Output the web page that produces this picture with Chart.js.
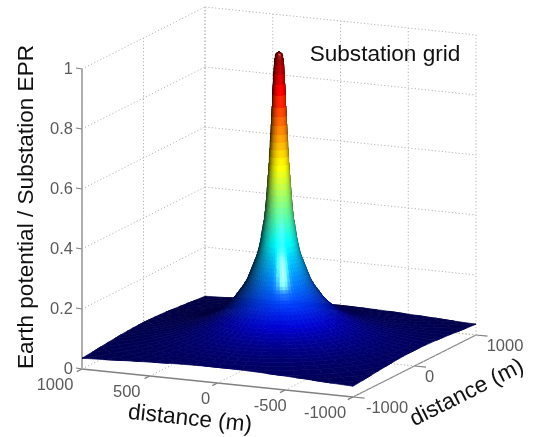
<!DOCTYPE html>
<html><head><meta charset="utf-8">
<style>html,body{margin:0;padding:0;background:#fff}canvas{display:block;filter:blur(.55px)}</style>
<script src="https://cdn.jsdelivr.net/npm/chart.js@4"></script></head>
<body><canvas id="c" width="533" height="437"></canvas>
<script>
// values
const xTicks = [1000, 500, 0, -500, -1000];
const yTicks = [-1000, 0, 1000];
const zTicks = [0, 0.2, 0.4, 0.6, 0.8, 1];
const xTickLabels = ['1000', '500', '0', '-500', '-1000'];
const yTickLabels = ['-1000', '0', '1000'];
const zTickLabels = ['0', '0.2', '0.4', '0.6', '0.8', '1'];
const titleText = 'Substation grid';
const xTitle = 'distance (m)';
const yTitle = 'distance (m)';
const zTitle = 'Earth potential / Substation EPR';
// potential against distance from the centre of the grid
const profileR = [0,10,18,22,26,30,34,38,42,45,48,51,54,57,60,63,66,69,72,75,78,81,84,88,92,96,100,105,110,115,120,127,135,142,150,160,170,180,190,202,215,228,240,255,270,285,300,320,340,370,400,435,470,510,550,595,640,690,740,795,850,925,1000,1100,1200,1300,1414];
const profileZ = [1,.998,.995,.99,.98,.96,.93,.895,.86,.82,.79,.76,.73,.705,.68,.655,.63,.61,.59,.57,.55,.53,.51,.49,.47,.455,.44,.425,.41,.395,.38,.362,.345,.332,.32,.307,.295,.282,.27,.255,.24,.23,.22,.21,.2,.19,.18,.17,.16,.147,.135,.125,.115,.106,.098,.091,.084,.078,.072,.067,.062,.057,.052,.047,.043,.039,.036];
const azimuthCount = 72;

// view geometry of the plot box
const ORIGIN = {sx: 279, sy: 352};
const ZPX = 300, ZWORLD = 2.07;
const VIEW = [-.401, -.888, .229];
const LIGHT = [-.62, -.74, .26];
const HIGHLIGHT = [-.50, -.80, .36];
const n3 = v => { const m = Math.hypot(...v); return v.map(a => a / m); };
const HALF = n3(HIGHLIGHT);
const dot = (a, b) => a[0]*b[0] + a[1]*b[1] + a[2]*b[2];
const proj = (x, y, z) => ({
  x: ORIGIN.sx - 0.1355 * x + 0.0615 * y,
  y: ORIGIN.sy - 0.014 * x - 0.031 * y - ZPX * z
});
function lookup(r) {
  for (let i = 1; i < profileR.length; i++) if (r <= profileR[i]) {
    const t = (r - profileR[i-1]) / (profileR[i] - profileR[i-1]);
    return profileZ[i-1] + t * (profileZ[i] - profileZ[i-1]);
  }
  return profileZ[profileZ.length - 1];
}
function jet(v) {
  const c = t => Math.max(0, Math.min(1, 1.5 - Math.abs(4 * v - t)));
  return [c(3), c(2), c(1)];
}
const surface = [];
const last = profileR.length - 1;
for (let a = 0; a < azimuthCount; a++) {
  const t0 = a * 2 * Math.PI / azimuthCount, t1 = (a + 1) * 2 * Math.PI / azimuthCount, tm = (t0 + t1) / 2;
  const lim = t => 1000 / Math.max(Math.abs(Math.cos(t)), Math.abs(Math.sin(t)));
  const R0 = lim(t0), R1 = lim(t1);
  for (let i = 0; i < last; i++) {
    const r1 = profileR[i], r2 = profileR[i+1];
    if (r1 >= R0 && r1 >= R1) continue;
    const pt = (r, t, R) => { const q = Math.min(r, R); return [q * Math.cos(t), q * Math.sin(t), lookup(q)]; };
    const q = [pt(r1, t0, R0), pt(r1, t1, R1), pt(r2, t1, R1), pt(r2, t0, R0)];
    const lo = Math.max(0, i - 2), hi = Math.min(last, i + 3);
    const slope = ZWORLD * (profileZ[hi] - profileZ[lo]) / ((profileR[hi] - profileR[lo]) / 1000);
    const ux = Math.cos(tm), uy = Math.sin(tm);
    const n = n3([-slope * ux, -slope * uy, 1]);
    const mid = q.reduce((s, p) => [s[0] + p[0]/4000, s[1] + p[1]/4000, s[2] + ZWORLD*p[2]/4], [0,0,0]);
    if (dot(n, VIEW) < -0.06) continue;
    const zc = (profileZ[i] + profileZ[i+1]) / 2;
    const dif = Math.max(0, dot(n, LIGHT)), spec = Math.pow(Math.max(0, dot(n, HALF)), 70);
    const col = jet(zc).map(c => Math.round(255 * Math.min(1, c * (0.26 + 0.78 * dif) + 0.72 * spec)));
    surface.push({depth: dot(mid, VIEW), col: `rgb(${col})`, pts: q.map(p => proj(p[0], p[1], p[2]))});
  }
}
surface.sort((a, b) => b.depth - a.depth);   // nearest first: chart.js paints the last dataset first
const datasets = surface.map(s => ({
  data: [...s.pts, s.pts[0]], showLine: true, fill: 'shape', backgroundColor: s.col,
  borderColor: s.col, borderWidth: 0.7, pointRadius: 0, tension: 0
}));
const line = (a, b, dash, col, w) => datasets.push({
  data: [proj(...a), proj(...b)], showLine: true, fill: false, borderColor: col,
  borderWidth: w, borderDash: dash, pointRadius: 0, tension: 0
});
const GRID = '#b4b4b4', AXIS = '#808080', DOT = [1.2, 2.2];
zTicks.forEach(z => { line([1000,-1000,z],[1000,1000,z],DOT,GRID,1); line([1000,1000,z],[-1000,1000,z],DOT,GRID,1); });
xTicks.forEach(x => { line([x,1000,0],[x,1000,1],DOT,GRID,1); if (x!==1000) line([x,-1000,0],[x,1000,0],DOT,GRID,1); });
yTicks.forEach(y => { line([1000,y,0],[1000,y,1],DOT,GRID,1); if (y!==-1000) line([1000,y,0],[-1000,y,0],DOT,GRID,1); });
line([1000,-1000,0],[1000,-1000,1],[],AXIS,1.3);
line([1000,-1000,0],[-1000,-1000,0],[],AXIS,1.3);
line([-1000,-1000,0],[-1000,1000,0],[],AXIS,1.3);
zTicks.forEach(z => { const p = proj(1000,-1000,z); datasets.push({data:[p,{x:p.x-6,y:p.y-1}],showLine:true,borderColor:AXIS,borderWidth:1.2,pointRadius:0}); });
xTicks.forEach(x => line([x,-1000,0],[x,-1085,0],[],AXIS,1.2));
yTicks.forEach(y => line([-1000,y,0],[-1085,y,0],[],AXIS,1.2));

const X_LABEL_SHIFT = [-27, -23, -12, -15, -28];
const Y_LABEL_SHIFT = [34, 15, 29];
const labels = {
  id: 'labels',
  afterDraw(chart) {
    const {ctx, scales: {x: sx, y: sy}} = chart;
    const put = (text, px, py, size, color, rot, align) => {
      ctx.save();
      ctx.translate(sx.getPixelForValue(px), sy.getPixelForValue(py));
      ctx.rotate(rot || 0);
      ctx.font = `${size}px "Liberation Sans"`;
      ctx.fillStyle = color;
      ctx.textAlign = align || 'center';
      ctx.textBaseline = 'middle';
      ctx.fillText(text, 0, 0);
      ctx.restore();
    };
    const TICK = '#5a5a5a';
    zTicks.forEach((z, i) => { const p = proj(1000,-1000,z); put(zTickLabels[i], p.x - 9, p.y + 0.5, 16.5, TICK, 0, 'right'); });
    xTicks.forEach((x, i) => { const p = proj(x,-1000,0); put(xTickLabels[i], p.x + X_LABEL_SHIFT[i], p.y + 16, 16.5, TICK); });
    yTicks.forEach((y, i) => { const p = proj(-1000,y,0); put(yTickLabels[i], p.x + Y_LABEL_SHIFT[i], p.y + 11, 16.5, TICK); });
    put(zTitle, 27, 207, 22.6, '#111', -Math.PI / 2);
    put(xTitle, 190, 419, 22.6, '#111', 0.105);
    put(yTitle, 467, 393, 22.6, '#111', -0.466);
    put(titleText, 385, 55, 22.6, '#111');
  }
};
new Chart(document.getElementById('c'), {
  type: 'scatter',
  data: {datasets},
  options: {
    responsive: false, animation: false, parsing: false, normalized: true,
    layout: {padding: 0},
    plugins: {legend: {display: false}, tooltip: {enabled: false}, filler: {propagate: false}},
    events: [],
    scales: {
      x: {type: 'linear', min: 0, max: 533, display: false},
      y: {type: 'linear', min: 0, max: 437, reverse: true, display: false}
    }
  },
  plugins: [labels]
});
</script></body></html>
